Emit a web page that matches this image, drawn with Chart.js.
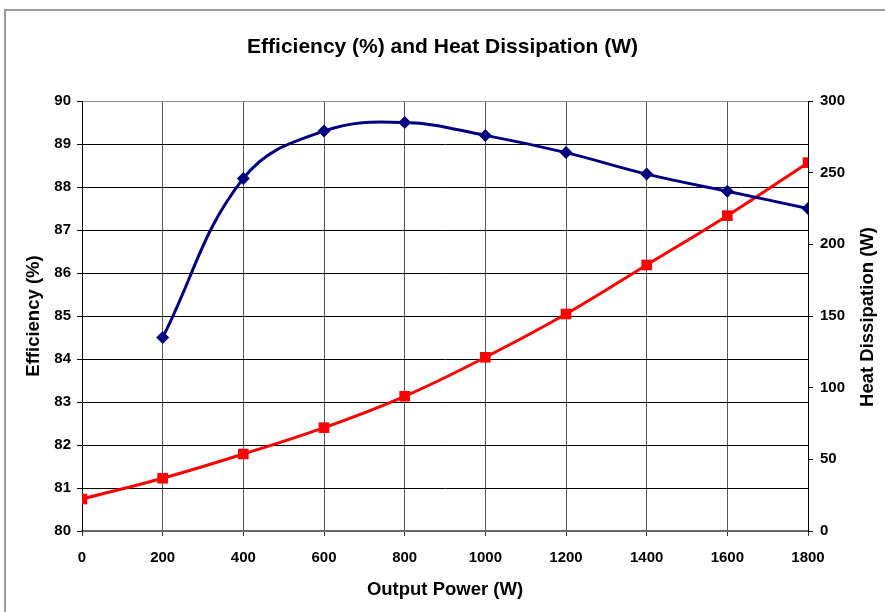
<!DOCTYPE html>
<html>
<head>
<meta charset="utf-8">
<script src="https://cdn.jsdelivr.net/npm/chart.js@4/dist/chart.umd.min.js"></script>
<style>
  html, body { margin: 0; padding: 0; background: #fff; }
  #wrap { position: relative; width: 885px; height: 612px; overflow: hidden; }
  #frame { position: absolute; left: 4px; top: 9px; width: 1000px; height: 800px; border: 2px solid #9a9a9a; box-sizing: border-box; }
  canvas { position: absolute; left: 0; top: 0; }
</style>
</head>
<body>
<div id="wrap">
  <div id="frame"></div>
  <canvas id="c" width="885" height="612"></canvas>
</div>
<script>
const titleText = 'Efficiency (%) and Heat Dissipation (W)';
const xTitle = 'Output Power (W)';
const yLeftTitle = 'Efficiency (%)';
const yRightTitle = 'Heat Dissipation (W)';

const effPower = [200, 400, 600, 800, 1000, 1200, 1400, 1600, 1800];
const efficiency = [84.5, 88.2, 89.3, 89.5, 89.2, 88.8, 88.3, 87.9, 87.5];

const heatPower = [0, 200, 400, 600, 800, 1000, 1200, 1400, 1600, 1800];
const heatDissipation = [22.3, 36.8, 53.7, 72.1, 94, 121.2, 151.4, 185.6, 220, 257];

const FONT = "'Liberation Sans', Arial, sans-serif";
const plain = v => String(v);

// Right axis title reads bottom-to-top (like the left one)
const rightTitlePlugin = {
  id: 'rightTitle',
  afterDraw(chart) {
    const s = chart.scales.y1;
    const ctx = chart.ctx;
    ctx.save();
    ctx.translate(s.right - 17.5, (chart.chartArea.top + chart.chartArea.bottom) / 2 + 1);
    ctx.rotate(-Math.PI / 2);
    ctx.font = "bold 18.5px " + FONT;
    ctx.fillStyle = '#000';
    ctx.textAlign = 'center';
    ctx.textBaseline = 'middle';
    ctx.fillText(yRightTitle, 0, 0);
    ctx.restore();
  }
};

new Chart(document.getElementById('c'), {
  type: 'line',
  data: {
    datasets: [
      {
        label: 'Efficiency',
        data: effPower.map((x, i) => ({ x, y: efficiency[i] })),
        yAxisID: 'y',
        borderColor: '#000080',
        backgroundColor: '#000080',
        borderWidth: 3,
        pointStyle: 'rectRot',
        pointRadius: 6.5,
        pointBorderWidth: 0,
        tension: 0.4,
        fill: false
      },
      {
        label: 'Heat Dissipation',
        data: heatPower.map((x, i) => ({ x, y: heatDissipation[i] })),
        yAxisID: 'y1',
        borderColor: '#ff0000',
        backgroundColor: '#ff0000',
        borderWidth: 3,
        pointStyle: 'rect',
        pointRadius: 7.5,
        pointBorderWidth: 0,
        tension: 0.4,
        fill: false
      }
    ]
  },
  options: {
    responsive: false,
    animation: false,
    layout: { padding: 0 },
    plugins: {
      legend: { display: false },
      tooltip: { enabled: false },
      title: {
        display: true,
        text: titleText,
        color: '#000',
        font: { family: FONT, size: 21, weight: 'bold', lineHeight: 1.2 },
        padding: { top: 34.5, bottom: 41.3 }
      }
    },
    scales: {
      x: {
        type: 'linear',
        min: 0,
        max: 1800,
        afterFit: s => { s.height = 81; },
        ticks: {
          stepSize: 200,
          color: '#000',
          padding: 13,
          callback: plain,
          font: { family: FONT, size: 15, weight: 'bold' },
          maxRotation: 0
        },
        grid: { color: '#555', lineWidth: 1, drawTicks: true, tickLength: 5, tickColor: '#333' },
        border: { color: '#666', width: 2 },
        title: {
          display: true,
          text: xTitle,
          color: '#000',
          font: { family: FONT, size: 18.5, weight: 'bold', lineHeight: 1.2 },
          padding: { top: 0, bottom: 11 }
        }
      },
      y: {
        position: 'left',
        min: 80,
        max: 90,
        afterFit: s => { s.width = 82; },
        ticks: {
          stepSize: 1,
          color: '#000',
          padding: 6,
          callback: plain,
          font: { family: FONT, size: 15, weight: 'bold' }
        },
        grid: {
          color: ctx => (ctx.tick && ctx.tick.value === 90) ? '#888' : '#000',
          lineWidth: 1,
          drawTicks: true,
          tickLength: 5,
          tickColor: '#000'
        },
        border: { color: '#000', width: 1 },
        title: {
          display: true,
          text: yLeftTitle,
          color: '#000',
          font: { family: FONT, size: 18.5, weight: 'bold', lineHeight: 1.2 },
          padding: { top: 23, bottom: 0 }
        }
      },
      y1: {
        position: 'right',
        min: 0,
        max: 300,
        afterFit: s => { s.width = 77; },
        ticks: {
          stepSize: 50,
          color: '#000',
          padding: 7,
          callback: plain,
          font: { family: FONT, size: 15, weight: 'bold' }
        },
        grid: { drawOnChartArea: false, drawTicks: true, tickLength: 5, tickColor: '#000' },
        border: { color: '#000', width: 1 },
        title: { display: false }
      }
    }
  },
  plugins: [rightTitlePlugin]
});
</script>
</body>
</html>
